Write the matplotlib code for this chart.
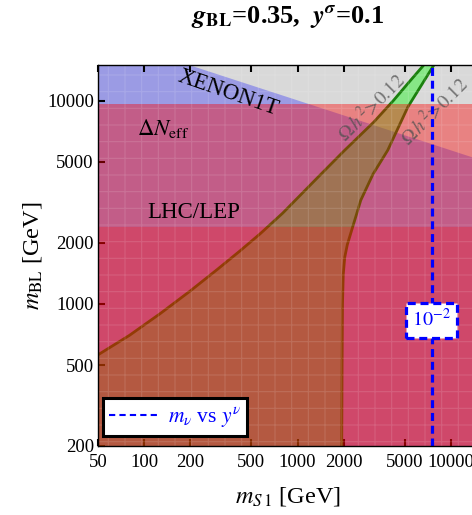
import matplotlib
matplotlib.use("Agg")
import matplotlib.pyplot as plt
from matplotlib.lines import Line2D
from matplotlib.patches import Rectangle
import numpy as np

plt.rcParams['font.family'] = ['Liberation Serif', 'DejaVu Serif']
plt.rcParams['mathtext.fontset'] = 'stix'
plt.rcParams['hatch.linewidth'] = 0.8

# ---- data ----
xticks = [50, 100, 200, 500, 1000, 2000, 5000, 10000]
yticks = [200, 500, 1000, 2000, 5000, 10000]
xlim = (50, 15000)
ylim = (200, 15000)

# relic band: upper/left boundary (m_S1, m_BL)
left_ms = [50, 80, 127, 200, 300, 424, 573, 800, 1343, 2000, 3135, 4240, 5300, 6650]
left_mbl = [562, 700, 896, 1160, 1480, 1832, 2223, 2800, 4170, 5650, 7850, 10080, 12300, 15000]
# relic band: lower/right boundary
right_ms = [1940, 1950, 1962, 1985, 2030, 2110, 2230, 2400, 2580, 3100, 3870, 5230, 7740]
right_mbl = [200, 500, 1000, 1400, 1700, 1960, 2250, 2700, 3236, 4350, 5710, 9310, 15000]

# XENON1T exclusion boundary
xenon_ms = [50, 199, 15000]
xenon_mbl = [15000, 15000, 5180]

dneff_limit = 9600     # Delta N_eff bound on m_BL
lhc_limit = 2400       # LHC/LEP bound on m_BL
mnu_line_ms = 7470     # m_nu vs y^nu contour (10^-2)

fig = plt.figure(figsize=(4.72, 5.15), dpi=100)
ax = fig.add_axes([98/472, 1-446/515, 380/472, 381/515])
ax.set_xscale('log')
ax.set_yscale('log')
ax.set_xlim(*xlim)
ax.set_ylim(*ylim)
ax.set_facecolor('#d9d9d9')

# XENON1T (blue)
ax.fill_between(xenon_ms, ylim[0], xenon_mbl, color=(0.05, 0.05, 1), alpha=0.3, lw=0, zorder=1)

# relic band (green)
poly_x = [left_ms[0]] + left_ms + right_ms[::-1]
poly_y = [ylim[0]] + left_mbl + right_mbl[::-1]
ax.fill(poly_x, poly_y, color=(0, 1, 0), alpha=0.38, lw=0, zorder=2)
ax.plot(left_ms, left_mbl, color=(0.1, 0.5, 0.05), lw=2.0, zorder=3)
ax.plot(right_ms, right_mbl, color=(0.1, 0.5, 0.05), lw=2.0, zorder=3)

# Delta N_eff and LHC/LEP (red)
ax.axhspan(ylim[0], dneff_limit, color=(1, 0, 0), alpha=0.4, lw=0, zorder=4)
ax.axhspan(ylim[0], lhc_limit, color=(1, 0, 0), alpha=0.22, lw=0, zorder=5)

# faint mesh texture
ax.add_patch(Rectangle((0, 0), 1, 1, transform=ax.transAxes, fill=False, hatch='+',
                       edgecolor=(1, 1, 1, 0.13), lw=0, zorder=6))

# region labels
ax.text(354, 10900, 'XENON1T', fontsize=16.5, rotation=-19, ha='center', va='center', zorder=8)
ax.text(133, 7330, r'$\Delta N_{\rm eff}$', fontsize=16.5, ha='center', va='center', zorder=8)
ax.text(209, 2820, 'LHC/LEP', fontsize=16.5, ha='center', va='center', zorder=8)
ax.text(3040, 9310, r'$\Omega\, h^2\!>\!0.12$', fontsize=14, rotation=45, ha='center', va='center',
        color='#505050', alpha=0.75, zorder=8)
ax.text(7800, 8900, r'$\Omega\, h^2\!>\!0.12$', fontsize=14, rotation=45, ha='center', va='center',
        color='#505050', alpha=0.75, zorder=8)

# m_nu contour
ax.axvline(mnu_line_ms, color='blue', lw=2.3, ls=(0, (2.5, 1.5)), zorder=9)
ax.text(mnu_line_ms, 830, r'$10^{-2}$', fontsize=14.5, color='blue', ha='center', va='center', zorder=10,
        bbox=dict(boxstyle='square,pad=0.3', fc='white', ec='blue', lw=2.3, ls=(0, (2.5, 1.5))))

# legend
h = Line2D([], [], color='blue', lw=1.5, ls=(0, (3, 2)))
leg = ax.legend([h], [r'$m_\nu$ vs $y^\nu$'], loc='lower left',
                bbox_to_anchor=((103-98)/380, (446-436)/381), borderaxespad=0,
                fancybox=False, framealpha=1, edgecolor='black', fontsize=15.5,
                labelcolor='blue', handlelength=2.2, handletextpad=0.5, borderpad=0.3)
leg.get_frame().set_linewidth(2.2)
leg.set_zorder(11)

# ticks
ax.set_xticks(xticks)
ax.set_xticklabels([str(v) for v in xticks])
ax.set_yticks(yticks)
ax.set_yticklabels([str(v) for v in yticks])
ax.minorticks_off()
ax.tick_params(direction='in', length=5, width=1.5, top=True, right=False,
               labelsize=13.5)
ax.tick_params(axis='x', pad=6)
ax.tick_params(axis='y', pad=3)
for s in ax.spines.values():
    s.set_linewidth(1.0)
    s.set_zorder(12)

ax.set_xlabel(r'$m_{S\,1}$ [GeV]', fontsize=17.5, labelpad=10)
ax.set_ylabel(r'$m_{\rm BL}$ [GeV]', fontsize=17.5, labelpad=2)
ax.set_title(r'$\boldsymbol{g}_{\mathbf{BL}}$=0.35,  $\boldsymbol{y}^{\boldsymbol{\sigma}}$=0.1',
             fontsize=19, fontweight='bold', pad=30)

fig.savefig('out.png', dpi=100)
